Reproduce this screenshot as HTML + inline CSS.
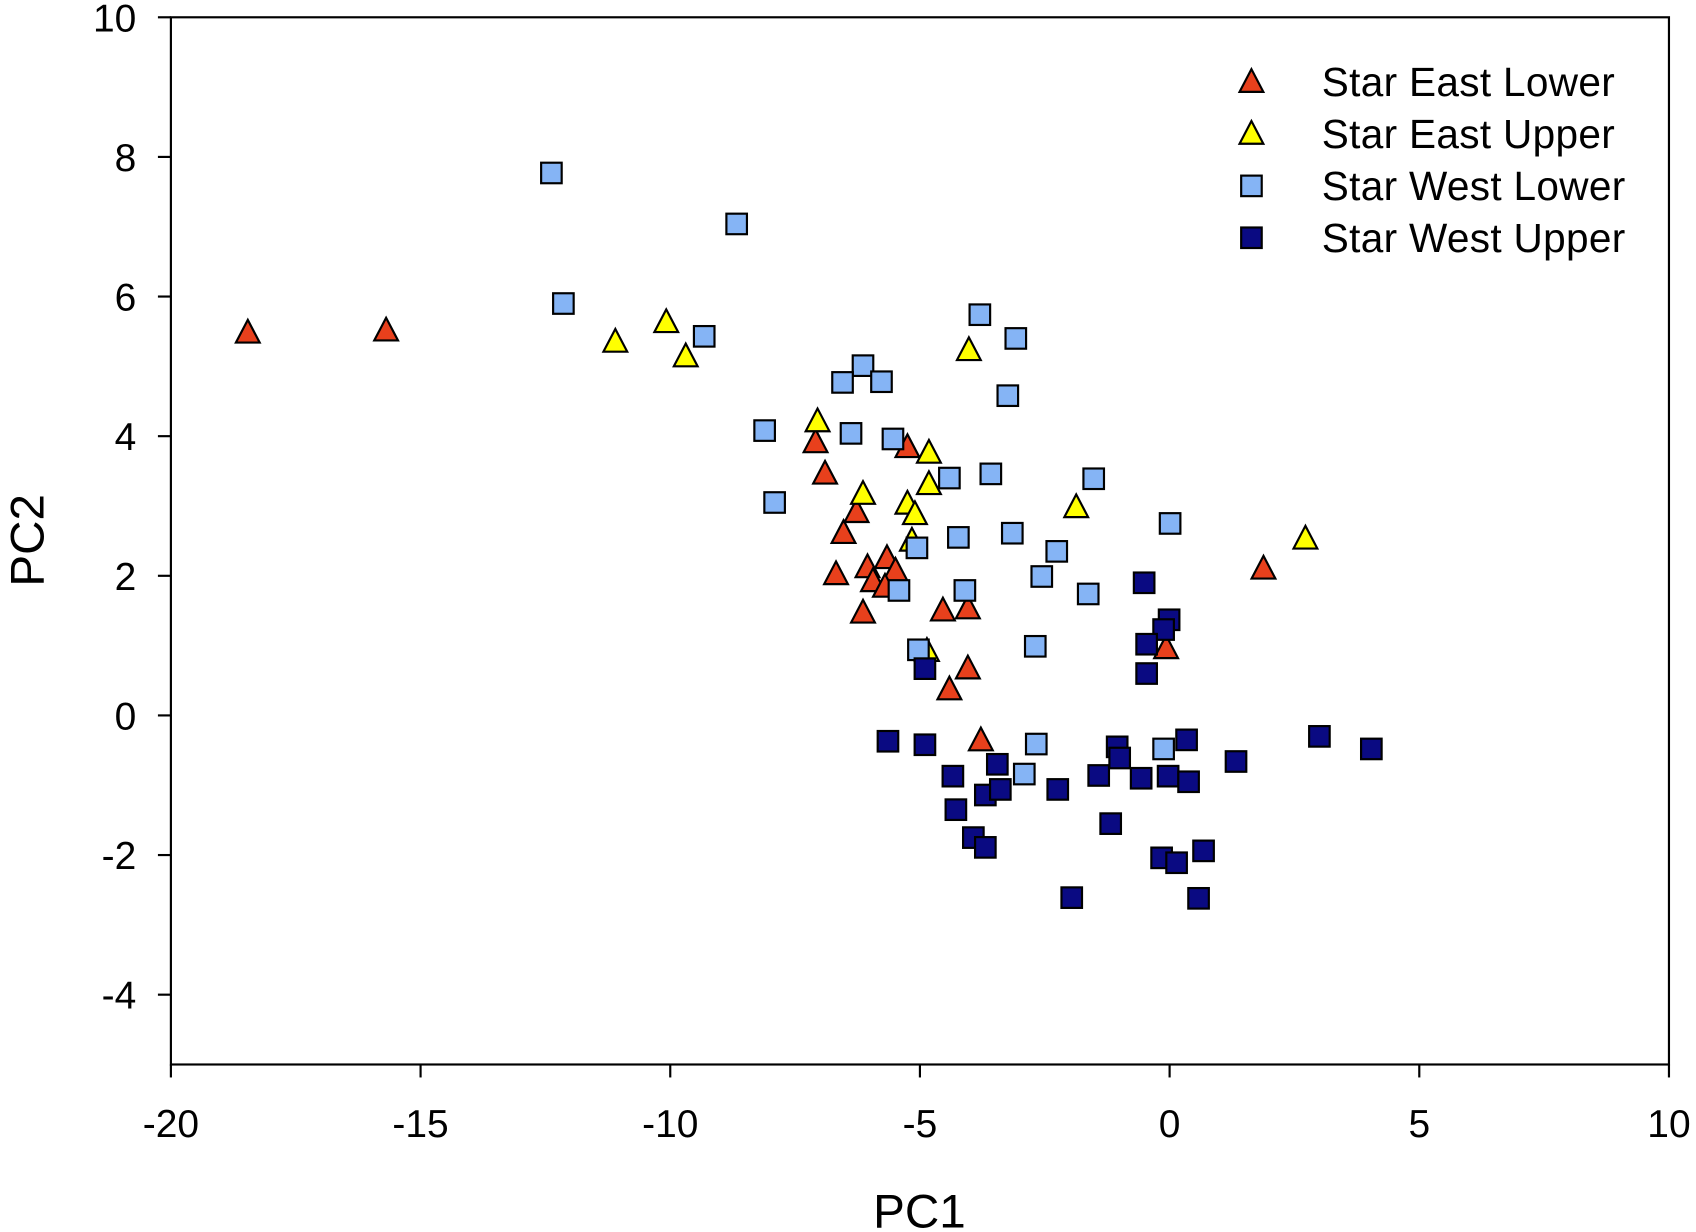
<!DOCTYPE html>
<html><head><meta charset="utf-8"><style>
html,body{margin:0;padding:0;background:#fff;}
svg{display:block;font-family:"Liberation Sans",Arial,sans-serif;}
</style></head><body>
<svg id="chart" width="1696" height="1232" viewBox="0 0 1568 1140" preserveAspectRatio="none" xmlns="http://www.w3.org/2000/svg">
<g id="axes"></g>
<g id="marks"></g>
<g id="legend"></g>
</svg>
<script>
const xTicks = [-20,-15,-10,-5,0,5,10];
const yTicks = [-4,-2,0,2,4,6,8,10];
const seriesNames = ["Star East Lower","Star East Upper","Star West Lower","Star West Upper"];
const eastLowerX = [-18.46,-15.69,-7.09,-6.90,-5.25,-6.53,-6.27,-6.68,-6.05,-5.94,-5.66,-5.49,-5.70,-6.14,-4.54,-4.04,-4.41,-4.04,-3.78,1.88,-0.07];
const eastLowerY = [5.48,5.51,3.91,3.46,3.84,2.61,2.91,2.02,2.12,1.92,2.25,2.07,1.84,1.47,1.50,1.53,0.37,0.67,-0.36,2.10,0.96];
const eastUpperX = [-11.10,-10.08,-9.69,-4.02,-7.05,-4.82,-6.14,-4.82,-5.25,-5.10,-5.16,-1.87,2.72,-4.86];
const eastUpperY = [5.35,5.63,5.14,5.23,4.21,3.76,3.17,3.31,3.03,2.88,2.50,2.98,2.53,0.92];
const westLowerX = [-12.38,-8.67,-12.14,-9.32,-3.80,-3.08,-6.14,-6.55,-5.77,-3.24,-8.11,-6.38,-5.54,-4.41,-3.58,-1.52,-7.91,-4.23,-3.15,-5.06,-2.26,-2.56,0.01,-5.42,-4.10,-1.63,-5.03,-2.69,-2.67,-2.91,-0.12];
const westLowerY = [7.77,7.04,5.90,5.43,5.74,5.40,5.01,4.77,4.78,4.58,4.08,4.04,3.96,3.40,3.46,3.39,3.05,2.55,2.61,2.40,2.35,1.99,2.75,1.79,1.79,1.74,0.94,0.99,-0.41,-0.84,-0.48];
const westUpperX = [-0.51,-0.01,-0.12,-0.46,-0.46,-4.90,-5.64,-4.90,-4.34,-3.45,-1.05,-1.00,0.34,-1.42,-0.57,-0.03,0.38,1.33,3.00,4.04,-4.28,-3.69,-3.39,-2.24,-1.18,-3.93,-3.69,-0.16,0.14,0.68,-1.96,0.58];
const westUpperY = [1.90,1.37,1.23,1.02,0.60,0.67,-0.37,-0.42,-0.87,-0.70,-0.45,-0.61,-0.35,-0.86,-0.90,-0.87,-0.95,-0.66,-0.30,-0.48,-1.35,-1.14,-1.06,-1.06,-1.55,-1.75,-1.89,-2.04,-2.11,-1.94,-2.61,-2.62];

const NS="http://www.w3.org/2000/svg";
const L=158,R=1543,T=16,B=985;
const xMin=-20,xMax=10,yMin=-5,yMax=10;
function xs(v){return L+(v-xMin)/(xMax-xMin)*(R-L);}
function ys(v){return B-(v-yMin)/(yMax-yMin)*(B-T);}
function mk(tag,attrs,parent){const e=document.createElementNS(NS,tag);for(const k in attrs)e.setAttribute(k,attrs[k]);parent.appendChild(e);return e;}
const axes=document.getElementById('axes'),marks=document.getElementById('marks'),legend=document.getElementById('legend');

const frame=mk('rect',{x:L,y:T,width:R-L,height:B-T,fill:'none',stroke:'#000','stroke-width':2},axes);


xTicks.forEach(t=>{
  const ln=mk('line',{x1:xs(t),x2:xs(t),y1:B,y2:B+12,stroke:'#000','stroke-width':2},axes);
  
  
  const tx=mk('text',{x:xs(t),y:B+67,'text-anchor':'middle','font-size':36,fill:'#000'},axes);
  tx.textContent=t;
  
  
});
yTicks.forEach(t=>{
  const ln=mk('line',{x1:L-12,x2:L,y1:ys(t),y2:ys(t),stroke:'#000','stroke-width':2},axes);
  
  
  const tx=mk('text',{x:126,y:ys(t)+13,'text-anchor':'end','font-size':36,fill:'#000'},axes);
  tx.textContent=t;
  
  
});
const xt=mk('text',{x:850,y:1136,'text-anchor':'middle','font-size':44,fill:'#000'},axes);
xt.textContent='PC1';


const yt=mk('text',{x:0,y:0,'text-anchor':'middle','font-size':44,fill:'#000',transform:'translate(40,500) rotate(-90)'},axes);
yt.textContent='PC2';



function tri(cx,cy,fill,parent){
  return mk('polygon',{points:`${cx},${cy-12} ${cx-11},${cy+9} ${cx+11},${cy+9}`,fill:fill,stroke:'#000','stroke-width':2},parent);
}
function sq(cx,cy,fill,parent){
  return mk('rect',{x:cx-9.5,y:cy-9.5,width:19,height:19,fill:fill,stroke:'#000','stroke-width':2},parent);
}
const series=[
  {x:eastLowerX,y:eastLowerY,fill:'#e8401c',shape:tri,name:'east-lower'},
  {x:eastUpperX,y:eastUpperY,fill:'#ffff00',shape:tri,name:'east-upper'},
  {x:westLowerX,y:westLowerY,fill:'#85b4f5',shape:sq,name:'west-lower'},
  {x:westUpperX,y:westUpperY,fill:'#0a0a82',shape:sq,name:'west-upper'}
];
series.forEach(s=>{
  s.x.forEach((v,i)=>{
    const e=s.shape(xs(v),ys(s.y[i]),s.fill,marks);
    
    
  });
});
series.forEach((s,i)=>{
  const cy=76+i*48;
  const e=s.shape(1157,cy,s.fill,legend);
  
  
  const t=mk('text',{x:1222,y:cy+13,'font-size':37.5,'letter-spacing':0.3,fill:'#000'},legend);
  t.textContent=seriesNames[i];
  
  
});
</script>
</body></html>
